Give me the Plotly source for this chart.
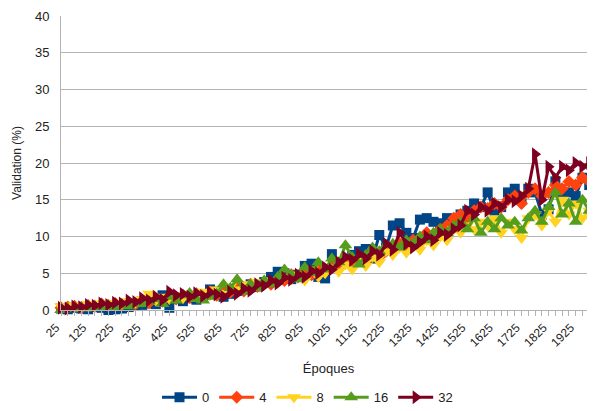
import plotly.graph_objects as go

epochs = list(range(25, 2001, 25))
tick_labels = [str(v) for v in range(25, 2000, 100)]

s0 = [0.2,0.1,0.3,0.2,0.1,0.4,0.3,0.0,0.1,0.2,
      0.4,0.6,0.7,0.9,0.8,2.0,0.3,1.5,1.2,1.6,
      1.4,1.8,2.8,2.5,1.8,2.2,2.6,3.0,3.5,3.2,
      3.8,4.5,5.2,5.0,4.2,4.8,6.0,6.3,4.5,4.3,
      7.6,6.5,6.8,7.5,8.0,8.3,7.0,10.2,8.5,11.5,
      11.8,10.5,9.8,12.3,12.5,12.0,11.8,12.5,12.0,13.0,
      13.5,14.5,14.0,16.0,13.5,14.0,16.0,16.5,15.0,16.5,
      16.0,13.0,13.7,17.5,16.0,16.0,15.5,18.0,17.0,18.5]
s4 = [0.3,0.4,0.5,0.3,0.6,0.5,0.8,0.6,0.9,0.7,
      1.0,0.8,1.2,1.0,1.5,1.2,1.8,1.5,2.0,1.7,
      2.2,1.9,2.5,2.0,2.8,2.4,3.0,2.6,3.5,3.2,
      3.8,3.5,4.2,4.0,4.8,4.5,5.2,4.8,5.5,5.3,
      6.0,5.8,6.5,6.2,7.0,6.5,7.5,7.2,8.0,8.5,
      9.0,8.5,9.5,9.8,10.5,10.0,11.0,11.5,12.5,13.0,
      12.5,13.5,14.0,13.8,14.5,14.0,15.0,15.5,14.5,16.0,
      16.5,15.5,16.0,17.0,16.5,17.5,17.0,18.0,17.5,18.5]
s8 = [0.5,0.3,0.6,0.4,0.8,0.5,0.9,0.7,1.0,0.8,
      1.2,1.0,1.5,2.2,1.3,1.8,1.5,2.0,1.6,2.2,
      1.8,2.5,2.0,2.8,2.3,3.2,2.8,3.5,3.0,3.8,
      3.5,4.0,3.8,4.5,4.2,4.8,4.0,5.5,4.5,5.0,
      5.8,5.2,6.2,5.5,6.8,6.0,7.2,6.5,8.0,7.5,
      8.5,7.8,9.0,8.2,9.5,8.8,10.0,9.5,11.0,10.5,
      11.5,11.0,12.0,11.5,12.5,10.5,12.0,11.0,9.8,12.5,
      13.0,11.5,13.5,12.0,15.0,13.0,14.5,12.5,13.5,14.0]
s16 = [0.0,0.2,0.1,0.4,0.2,0.5,0.3,0.6,0.4,0.7,
       0.5,0.9,0.8,1.2,1.5,0.8,1.8,1.3,2.0,2.3,
       1.5,1.3,1.8,2.2,3.5,3.0,4.2,2.5,3.5,3.0,
       4.0,3.5,4.5,5.5,4.8,4.2,5.8,5.0,6.5,5.5,
       7.0,6.5,8.8,7.2,6.2,7.5,8.5,8.0,8.8,9.0,
       8.5,9.5,9.0,10.0,9.5,10.5,11.0,10.5,11.5,12.0,
       11.0,12.5,10.5,12.0,11.0,12.5,11.5,12.0,10.8,12.5,
       13.5,12.0,14.0,16.0,13.0,14.5,12.0,15.0,13.5,16.0]
s32 = [0.3,0.2,0.5,0.4,0.7,0.6,0.9,0.7,1.0,0.9,
       1.3,1.1,1.6,1.3,1.8,1.4,2.5,2.0,2.2,1.8,
       2.3,1.9,2.4,2.1,1.8,2.5,2.2,2.9,2.6,3.5,
       3.3,4.0,3.6,4.4,4.1,4.8,4.5,5.3,5.0,5.8,
       5.5,6.5,7.2,6.8,7.6,7.0,8.0,7.5,9.0,8.2,
       10.5,9.0,8.5,9.2,10.0,9.5,10.5,10.2,11.0,11.5,
       13.5,13.0,14.0,13.5,14.5,14.0,15.0,14.8,15.5,16.5,
       21.2,15.0,19.5,18.0,19.5,19.0,20.0,19.5,20.0,20.5]

series = [("0", s0, "#004586", "square", 10),
          ("4", s4, "#ff420e", "diamond", 10),
          ("8", s8, "#ffd320", "triangle-down", 12),
          ("16", s16, "#579d1c", "triangle-up", 12),
          ("32", s32, "#7e0021", "triangle-right", 12)]

fig = go.Figure()
for name, vals, color, sym, size in series:
    fig.add_trace(go.Scatter(
        x=epochs, y=vals, name=name, mode="lines+markers",
        line=dict(color=color, width=3),
        marker=dict(symbol=sym, size=size, color=color, line=dict(width=0)),
        cliponaxis=False,
    ))

font_family = "Liberation Sans, Arial, sans-serif"
fig.update_layout(
    width=595, height=411,
    margin=dict(l=53, r=7, t=8, b=107),
    paper_bgcolor="white", plot_bgcolor="white",
    font=dict(family=font_family, size=13, color="#222222"),
    showlegend=True,
    legend=dict(orientation="h", x=(149 - 53) / 535, xanchor="left", y=-0.297, yanchor="middle",
                font=dict(size=13, color="#222222"), itemwidth=35, tracegroupgap=0),
    xaxis=dict(
        range=[25, 2000], tickmode="array",
        tickvals=[int(t) for t in tick_labels], ticktext=tick_labels,
        tickangle=-45, showgrid=False, zeroline=False, automargin=False,
        showline=True, linecolor="#b3b3b3", linewidth=1,
        ticks="outside", ticklen=5, tickcolor="#b3b3b3",
        ticklabelshift=-5,
        minor=dict(dtick=25, tick0=25, ticks="outside", ticklen=5, tickcolor="#b3b3b3", showgrid=False),
        tickfont=dict(size=12, color="#222222"),
        title=dict(text="Époques", font=dict(size=13, color="#222222"), standoff=15),
    ),
    yaxis=dict(
        range=[0, 40], dtick=5, showgrid=True, gridcolor="#b3b3b3", gridwidth=1,
        zeroline=False, showline=True, linecolor="#b3b3b3", linewidth=1, automargin=False,
        ticks="", ticklabelstandoff=8, tickfont=dict(size=13, color="#222222"),
        title=dict(text="Validation (%)", font=dict(size=12, color="#222222"), standoff=10),
    ),
)

fig.write_html("out.html")
